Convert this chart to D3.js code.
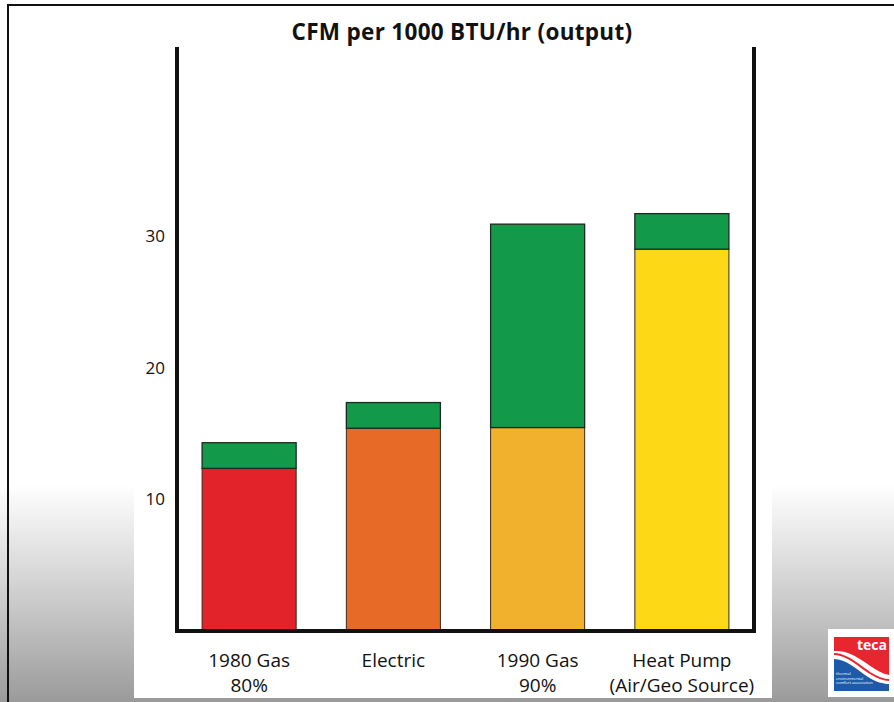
<!DOCTYPE html>
<html>
<head>
<meta charset="utf-8">
<script src="https://cdn.jsdelivr.net/npm/d3@7"></script>
<style>
  html, body { margin: 0; padding: 0; background: #fff; }
  svg { display: block; }
</style>
</head>
<body>
<svg id="chart" width="894" height="702"></svg>
<script>
// Chart data
const categories = ["1980 Gas", "Electric", "1990 Gas", "Heat Pump"];
const subLabels = ["80%", "", "90%", "(Air/Geo Source)"];
const baseValues = [12.35, 15.4, 15.45, 29.0];   // lower segment
const topValues = [1.95, 1.95, 15.45, 2.7];      // green upper segment
const baseColors = ["#e2232a", "#e86a27", "#f1b12d", "#fdd816"];
const topColor = "#13994a";
const yTicks = [10, 20, 30];
const title = "CFM per 1000 BTU/hr (output)";

const svg = d3.select("#chart");
const W = 894, H = 702;

// Slide background: white fading to grey at the bottom
const defs = svg.append("defs");
const grad = defs.append("linearGradient").attr("id", "bg").attr("x1", 0).attr("y1", 0).attr("x2", 0).attr("y2", 1);
grad.append("stop").attr("offset", "0").attr("stop-color", "#ffffff");
grad.append("stop").attr("offset", "0.69").attr("stop-color", "#ffffff");
grad.append("stop").attr("offset", "0.85").attr("stop-color", "#cdcdcd");
grad.append("stop").attr("offset", "0.99").attr("stop-color", "#9e9e9e");
grad.append("stop").attr("offset", "1").attr("stop-color", "#999999");
svg.append("rect").attr("x", 0).attr("y", 0).attr("width", W).attr("height", H).attr("fill", "url(#bg)");

// Frame lines (top and left)
svg.append("line").attr("x1", 7).attr("x2", W).attr("y1", 5).attr("y2", 5).attr("stroke", "#111").attr("stroke-width", 2);
svg.append("line").attr("x1", 8).attr("x2", 8).attr("y1", 4).attr("y2", H).attr("stroke", "#111").attr("stroke-width", 2);

// White chart panel
svg.append("rect").attr("x", 134).attr("y", 12).attr("width", 638).attr("height", 686).attr("fill", "#fff");

// Scales
const x = d3.scaleBand().domain(categories).range([177, 754]).paddingInner(0.348).paddingOuter(0.174);
const y = d3.scaleLinear().domain([0, 30]).range([631, 236]);

// Bars: lower coloured segment + green cap
const g = svg.append("g");
categories.forEach((c, i) => {
  const b = baseValues[i], t = topValues[i];
  g.append("rect")
    .attr("x", x(c)).attr("width", x.bandwidth())
    .attr("y", y(b)).attr("height", y(0) - y(b))
    .attr("fill", baseColors[i]).attr("stroke", "#3a2a1a").attr("stroke-width", 1);
  g.append("rect")
    .attr("x", x(c)).attr("width", x.bandwidth())
    .attr("y", y(b + t)).attr("height", y(b) - y(b + t))
    .attr("fill", topColor).attr("stroke", "#1b2a1e").attr("stroke-width", 1.3);
});

// Frame axes: left, right, bottom
const axisColor = "#111";
svg.append("line").attr("x1", 177).attr("x2", 177).attr("y1", 47).attr("y2", y(0) + 2).attr("stroke", axisColor).attr("stroke-width", 4);
svg.append("line").attr("x1", 754).attr("x2", 754).attr("y1", 47).attr("y2", y(0) + 2).attr("stroke", axisColor).attr("stroke-width", 4);
svg.append("line").attr("x1", 175).attr("x2", 756).attr("y1", y(0)).attr("y2", y(0)).attr("stroke", axisColor).attr("stroke-width", 4);

// Y tick labels
const yAxis = d3.axisLeft(y).tickValues(yTicks).tickSize(0).tickPadding(0).tickFormat(d3.format("d"));
const ya = svg.append("g").attr("transform", "translate(165,0)").call(yAxis);
ya.select(".domain").remove();
ya.selectAll("text")
  .attr("font-family", "'Open Sans', sans-serif").attr("font-size", 17).attr("fill", "#111");

// Category labels (two lines)
const xl = svg.append("g").attr("font-family", "'Open Sans', sans-serif").attr("font-size", 19).attr("fill", "#111").attr("text-anchor", "middle");
categories.forEach((c, i) => {
  const cx = x(c) + x.bandwidth() / 2;
  xl.append("text").attr("x", cx).attr("y", 667).text(c);
  if (subLabels[i]) xl.append("text").attr("x", cx).attr("y", 692).text(subLabels[i]);
});

// Title
svg.append("text")
  .attr("x", 462).attr("y", 40)
  .attr("text-anchor", "middle")
  .attr("font-family", "'Open Sans', sans-serif").attr("font-weight", 700).attr("font-size", 22.5)
  .attr("letter-spacing", 0.3)
  .attr("fill", "#111")
  .text(title);

// Association logo
const logo = svg.append("g").attr("transform", "translate(828,629)");
logo.append("rect").attr("width", 66).attr("height", 68).attr("fill", "#fff");
logo.append("path")
  .attr("d", "M6,8 L61,8 L61,46 C48,44 36,30 20,24 C14,22 9,22 6,22 Z")
  .attr("fill", "#e8262f");
logo.append("path")
  .attr("d", "M6,30 C18,30 28,40 40,48 C48,53 55,55 61,55 L61,62 L6,62 Z")
  .attr("fill", "#1d5aa8");
logo.append("path")
  .attr("d", "M6,25 C18,25 30,36 42,44 C50,49 56,51 61,51")
  .attr("fill", "none").attr("stroke", "#e8262f").attr("stroke-width", 2);
logo.append("text").attr("x", 59).attr("y", 21).attr("text-anchor", "end")
  .attr("font-family", "'Open Sans', sans-serif").attr("font-weight", 700).attr("font-size", 14)
  .attr("fill", "#fff").text("teca");
const small = ["thermal", "environmental", "comfort association"];
small.forEach((s, i) => {
  logo.append("text").attr("x", 8).attr("y", 46 + i * 4.5)
    .attr("font-family", "'Open Sans', sans-serif").attr("font-size", 4).attr("fill", "#fff").text(s);
});
</script>
</body>
</html>
